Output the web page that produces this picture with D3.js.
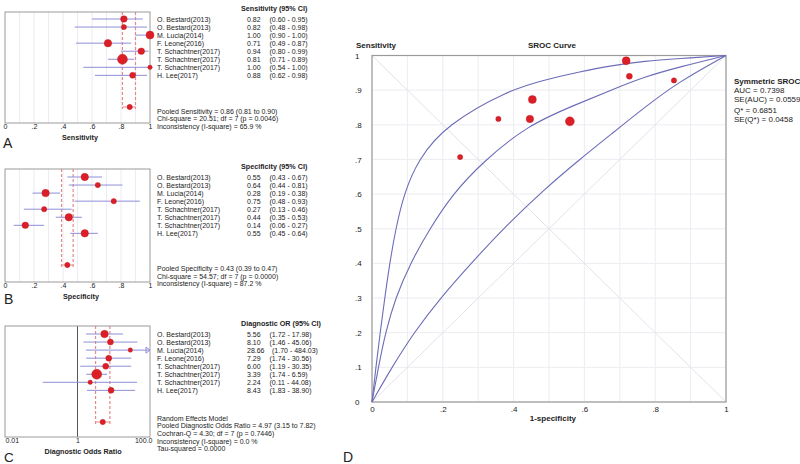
<!DOCTYPE html>
<html><head><meta charset="utf-8">
<script src="https://cdn.jsdelivr.net/npm/d3@7"></script>
<style>
body{margin:0;background:#fff}
text{font-family:"Liberation Sans",Arial,sans-serif;fill:#222}
</style>
</head><body>
<svg id="c" width="800" height="464"></svg>
<script>
// ---------- DATA ----------
const studies = ["O. Bestard(2013)","O. Bestard(2013)","M. Lucia(2014)","F. Leone(2016)","T. Schachtner(2017)","T. Schachtner(2017)","T. Schachtner(2017)","H. Lee(2017)"];

const sens   = [0.82,0.82,1.00,0.71,0.94,0.81,1.00,0.88];
const sensLo = [0.60,0.48,0.90,0.49,0.80,0.71,0.54,0.62];
const sensHi = [0.95,0.98,1.00,0.87,0.99,0.89,1.00,0.98];
const sensWeight = [11,7,16,14,11,25,5,9];
const sensPooled = [0.86,0.81,0.90];

const spec   = [0.55,0.64,0.28,0.75,0.27,0.44,0.14,0.55];
const specLo = [0.43,0.44,0.19,0.48,0.13,0.35,0.06,0.45];
const specHi = [0.67,0.81,0.38,0.93,0.46,0.53,0.27,0.64];
const specWeight = [14,7,14,7,7,14,11,14];
const specPooled = [0.43,0.39,0.47];

const dor   = [5.56,8.10,28.66,7.29,6.00,3.39,2.24,8.43];
const dorLo = [1.72,1.46,1.70,1.74,1.19,1.74,0.11,1.83];
const dorHi = [17.98,45.06,484.03,30.56,30.35,6.59,44.08,38.90];
const dorWeight = [14,9,5,9,9,25,5,9];
const dorPooled = [4.97,3.15,7.82];
const pooledWeight = 7;

const sensFooter = ["Pooled Sensitivity = 0.86 (0.81 to 0.90)","Chi-square = 20.51; df =  7 (p = 0.0046)","Inconsistency (I-square) = 65.9 %"];
const specFooter = ["Pooled Specificity = 0.43 (0.39 to 0.47)","Chi-square = 54.57; df =  7 (p = 0.0000)","Inconsistency (I-square) = 87.2 %"];
const dorFooter  = ["Random Effects Model","Pooled Diagnostic Odds Ratio = 4.97 (3.15 to 7.82)","Cochran-Q = 4.30; df =  7 (p = 0.7446)","Inconsistency (I-square) = 0.0 %","Tau-squared = 0.0000"];

const propTicks = [0,0.2,0.4,0.6,0.8,1];
const propTickLabels = ["0",".2",".4",".6",".8","1"];
const dorTicks = [0.01,1,100];
const dorTickLabels = ["0.01","1","100.0"];

// SROC
const srocFpr = [0.446,0.357,0.718,0.249,0.727,0.559,0.853,0.453];
const srocTpr = [0.817,0.817,0.985,0.707,0.940,0.810,0.928,0.873];
const srocWeight = [14,7,16,7,9,20,7,16];
const curveUpper  = [[0,0],[0.011,0.1],[0.023,0.2],[0.036,0.3],[0.05,0.4],[0.067,0.5],[0.09,0.6],[0.13,0.7],[0.21,0.8],[0.385,0.9],[0.489,0.93],[0.583,0.952],[0.677,0.971],[0.771,0.984],[0.865,0.991],[1,1]];
const curveMiddle = [[0,0],[0.018,0.1],[0.038,0.2],[0.066,0.3],[0.108,0.4],[0.163,0.5],[0.228,0.6],[0.31,0.69],[0.44,0.80],[0.583,0.861],[0.677,0.901],[0.771,0.939],[0.865,0.966],[1,1]];
const curveLower  = [[0,0],[0.056,0.1],[0.118,0.2],[0.193,0.3],[0.28,0.4],[0.37,0.5],[0.489,0.616],[0.583,0.697],[0.677,0.774],[0.771,0.851],[0.865,0.923],[1,1]];
const srocTicks = [0,0.1,0.2,0.3,0.4,0.5,0.6,0.7,0.8,0.9,1];
const srocYLabels = ["0",".1",".2",".3",".4",".5",".6",".7",".8",".9","1"];
const srocXTicks = [0,0.2,0.4,0.6,0.8,1];
const srocXLabels = ["0",".2",".4",".6",".8","1"];
const srocStats = ["AUC = 0.7398","SE(AUC) = 0.0559","Q* = 0.6851","SE(Q*) = 0.0458"];

// ---------- STYLE ----------
const RED = "#dc1f26", CI = "#8e8ed8", FRAME = "#9a9a9a", GRID = "#ececf2", CURVE = "#6c6cb8";

const svg = d3.select("#c");
svg.append("rect").attr("width",800).attr("height",464).attr("fill","#fff");

const rScale = d3.scaleSqrt().domain([0,25]).range([0,5]);
const fmt2 = d3.format(".2f");

function forest(o){
  const g = svg.append("g");
  const x = o.x;
  const rowY = d3.scalePoint().domain(d3.range(studies.length)).range([o.row0, o.row0 + 7*8.05]);
  const [xl, xr] = x.range();
  (o.grid||[]).forEach(v=>{
    g.append("line").attr("x1",x(v)).attr("x2",x(v)).attr("y1",o.top).attr("y2",o.bottom)
     .attr("stroke",GRID).attr("stroke-width",1);
  });
  if(o.refLine!==undefined){
    g.append("line").attr("x1",x(o.refLine)).attr("x2",x(o.refLine)).attr("y1",o.top).attr("y2",o.bottom)
     .attr("stroke","#555").attr("stroke-width",1);
  }
  [o.pooled[1],o.pooled[2]].forEach(v=>{
    g.append("line").attr("x1",x(v)).attr("x2",x(v)).attr("y1",o.top).attr("y2",o.pooledY+2)
     .attr("stroke","#e58a8a").attr("stroke-width",1.2).attr("stroke-dasharray","3,2");
  });
  g.append("rect").attr("x",xl).attr("y",o.top).attr("width",xr-xl).attr("height",o.bottom-o.top)
   .attr("fill","none").attr("stroke",FRAME).attr("stroke-width",1);
  studies.forEach((s,i)=>{
    const hi = Math.min(o.hi[i], x.domain()[1]);
    const lo = Math.max(o.lo[i], x.domain()[0]);
    g.append("line").attr("x1",x(lo)).attr("x2",x(hi)).attr("y1",rowY(i)).attr("y2",rowY(i))
     .attr("stroke",CI).attr("stroke-width",1);
    if(o.hi[i] > x.domain()[1]){
      const ax = x(x.domain()[1]);
      g.append("path").attr("d",`M${ax-4},${rowY(i)-3}L${ax},${rowY(i)}L${ax-4},${rowY(i)+3}Z`)
       .attr("fill","none").attr("stroke",CI).attr("stroke-width",1);
    }
  });
  studies.forEach((s,i)=>{
    g.append("circle").attr("cx",x(o.val[i])).attr("cy",rowY(i)).attr("r",rScale(o.w[i]))
     .attr("fill",RED).attr("stroke","#b81a20").attr("stroke-width",0.4);
  });
  g.append("line").attr("x1",x(o.pooled[1])).attr("x2",x(o.pooled[2])).attr("y1",o.pooledY).attr("y2",o.pooledY)
   .attr("stroke","#e58a8a").attr("stroke-width",1);
  g.append("circle").attr("cx",x(o.pooled[0])).attr("cy",o.pooledY).attr("r",rScale(pooledWeight))
   .attr("fill",RED).attr("stroke","#b81a20").attr("stroke-width",0.4);
  const ax = g.append("g").attr("transform",`translate(0,${o.bottom})`)
    .call(d3.axisBottom(x).tickValues(o.ticks).tickFormat((d,i)=>o.tickLabels[i]).tickSize(0).tickPadding(1.5));
  ax.select(".domain").remove();
  ax.selectAll("text").style("font-size","7px").style("fill","#222")
    .attr("font-family","Liberation Sans, Arial, sans-serif");
  if(o.anchors) ax.selectAll("text").attr("text-anchor",(d,i)=>o.anchors[i]).attr("dx",(d,i)=>o.anchorDx[i]);
  g.append("text").attr("x",o.labelX).attr("y",o.bottom+16.5).attr("text-anchor","middle")
   .style("font-size","7.2px").style("font-weight","bold").text(o.axisLabel);
  g.append("text").attr("x",o.letterX).attr("y",o.letterY).style("font-size",o.letterSize||"14px").text(o.letter);
  g.append("text").attr("x",241).attr("y",o.row0-11+2.6).style("font-size","7.2px").style("font-weight","bold").text(o.header);
  studies.forEach((s,i)=>{
    const yb = rowY(i)+2.5;
    g.append("text").attr("x",157).attr("y",yb).style("font-size","7px").text(s);
    const vt = g.append("text").attr("x",247).attr("y",yb).style("font-size","7px").text(fmt2(o.val[i]));
    const w = vt.node().getComputedTextLength();
    const cx = Math.max(269.5, 247 + w + 7.5);
    g.append("text").attr("x",cx).attr("y",yb).style("font-size","7px")
     .text(`(${fmt2(o.lo[i])} - ${fmt2(o.hi[i])})`);
  });
  o.footer.forEach((t,i)=>{
    g.append("text").attr("x",157).attr("y",o.footY[i]+2.5).style("font-size","7px").text(t);
  });
}

const xProp = d3.scaleLinear().domain([0,1]).range([5,150]);
const xDor = d3.scaleLog().domain([0.01,100]).range([5,150]);

forest({x:xProp, top:12, bottom:123, row0:19, pooledY:107, val:sens, lo:sensLo, hi:sensHi, w:sensWeight,
  pooled:sensPooled, grid:d3.range(1,10).map(d=>d/10), ticks:propTicks, tickLabels:propTickLabels,
  axisLabel:"Sensitivity", labelX:80, letter:"A", letterX:3, letterY:148.3,
  header:"Sensitivity (95% CI)", footer:sensFooter, footY:[111,118.5,126]});

forest({x:xProp, top:169, bottom:282, row0:177, pooledY:265, val:spec, lo:specLo, hi:specHi, w:specWeight,
  pooled:specPooled, grid:d3.range(1,10).map(d=>d/10), ticks:propTicks, tickLabels:propTickLabels,
  axisLabel:"Specificity", labelX:81, letter:"B", letterX:4, letterY:304,
  header:"Specificity (95% CI)", footer:specFooter, footY:[268,276,283.5]});

forest({x:xDor, top:326, bottom:437, row0:334, pooledY:422, val:dor, lo:dorLo, hi:dorHi, w:dorWeight,
  pooled:dorPooled, refLine:1, ticks:dorTicks, tickLabels:dorTickLabels,
  anchors:["start","middle","end"], anchorDx:[0,0,2],
  axisLabel:"Diagnostic Odds Ratio", labelX:83, letter:"C", letterX:4, letterY:461.8, letterSize:"13.5px",
  header:"Diagnostic OR (95% CI)", footer:dorFooter, footY:[418.3,425.7,433,441,448.3]});

// ---------- SROC ----------
const gD = svg.append("g");
const sx = d3.scaleLinear().domain([0,1]).range([372,726]);
const sy = d3.scaleLinear().domain([0,1]).range([402,55.5]);
srocTicks.forEach(v=>{
  gD.append("line").attr("x1",sx(v)).attr("x2",sx(v)).attr("y1",sy(0)).attr("y2",sy(1)).attr("stroke",GRID);
  gD.append("line").attr("x1",sx(0)).attr("x2",sx(1)).attr("y1",sy(v)).attr("y2",sy(v)).attr("stroke",GRID);
});
gD.append("line").attr("x1",sx(0)).attr("y1",sy(0)).attr("x2",sx(1)).attr("y2",sy(1)).attr("stroke","#e2e2ea");
gD.append("line").attr("x1",sx(0)).attr("y1",sy(1)).attr("x2",sx(1)).attr("y2",sy(0)).attr("stroke","#e2e2ea");
gD.append("rect").attr("x",sx(0)).attr("y",sy(1)).attr("width",sx(1)-sx(0)).attr("height",sy(0)-sy(1))
  .attr("fill","none").attr("stroke",FRAME).attr("stroke-width",1.2);
const line = d3.line().x(d=>sx(d[0])).y(d=>sy(d[1])).curve(d3.curveBasis);
[curveUpper,curveMiddle,curveLower].forEach(c=>{
  gD.append("path").attr("d",line(c)).attr("fill","none").attr("stroke",CURVE).attr("stroke-width",1.1);
});
srocFpr.forEach((f,i)=>{
  gD.append("circle").attr("cx",sx(f)).attr("cy",sy(srocTpr[i])).attr("r",rScale(srocWeight[i]))
    .attr("fill",RED).attr("stroke","#b81a20").attr("stroke-width",0.4);
});
const ay = gD.append("g").attr("transform",`translate(${sx(0)},0)`)
  .call(d3.axisLeft(sy).tickValues(srocTicks).tickFormat((d,i)=>srocYLabels[i]).tickSize(0));
ay.select(".domain").remove();
ay.selectAll("text").attr("text-anchor","start").attr("x",355-372).style("font-size","8px").style("fill","#222");
const axx = gD.append("g").attr("transform",`translate(0,${sy(0)})`)
  .call(d3.axisBottom(sx).tickValues(srocXTicks).tickFormat((d,i)=>srocXLabels[i]).tickSize(0).tickPadding(4.3));
axx.select(".domain").remove();
axx.selectAll("text").style("font-size","8px").style("fill","#222");
gD.append("text").attr("x",576).attr("y",421).attr("text-anchor","end").style("font-size","8px").style("font-weight","bold").text("1-specificity");
gD.append("text").attr("x",356).attr("y",48).style("font-size","8px").style("font-weight","bold").text("Sensitivity");
gD.append("text").attr("x",552).attr("y",48).attr("text-anchor","middle").style("font-size","8px").style("font-weight","bold").text("SROC Curve");
gD.append("text").attr("x",734).attr("y",84).style("font-size","8px").style("font-weight","bold").text("Symmetric SROC");
srocStats.forEach((t,i)=>{
  gD.append("text").attr("x",734).attr("y",[93,102.3,112.5,122.3][i]).style("font-size","8px").text(t);
});
gD.append("text").attr("x",343).attr("y",462).style("font-size","14px").text("D");
</script>
</body></html>
